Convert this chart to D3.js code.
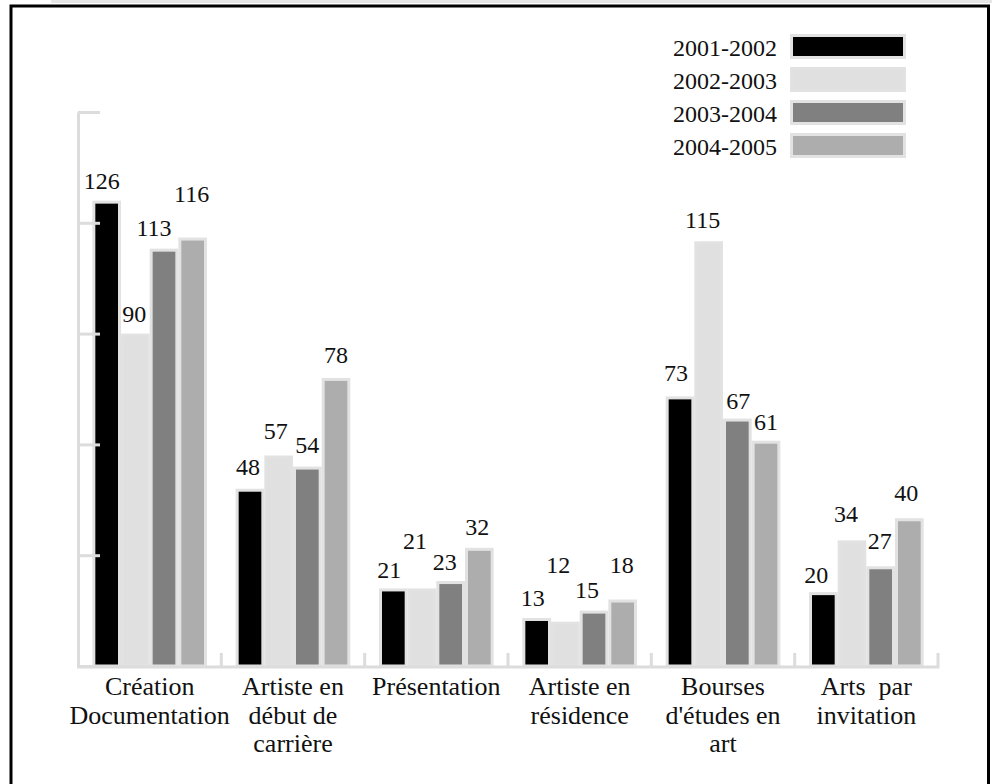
<!DOCTYPE html>
<html>
<head>
<meta charset="utf-8">
<script src="https://cdn.jsdelivr.net/npm/d3@7"></script>
<style>
  html, body { margin: 0; padding: 0; background: #fff; }
</style>
</head>
<body>
<div id="chart"></div>
<script>
// categories, one label line per entry
var categories = [
  ['Création', 'Documentation'],
  ['Artiste en', 'début de', 'carrière'],
  ['Présentation'],
  ['Artiste en', 'résidence'],
  ['Bourses', "d'études en", 'art'],
  ['Arts\u00a0 par', 'invitation']
];
var seriesNames = ['2001-2002', '2002-2003', '2003-2004', '2004-2005'];
var y2001 = [126, 48, 21, 13, 73, 20];
var y2002 = [90, 57, 21, 12, 115, 34];
var y2003 = [113, 54, 23, 15, 67, 27];
var y2004 = [116, 78, 32, 18, 61, 40];
var yTicks = [0, 30, 60, 90, 120, 150];

var fillcolors = ['#000000', '#e0e0e0', '#808080', '#adadad'];
var edge = '#e2e2e2';
var serif = "'Liberation Serif', 'Times New Roman', serif";

// label placement in the original is hand made: [dx, gap above bar]
var labelNudge = [
  [[-5, 12], [-1, 12], [-10, 13], [-1, 36]],
  [[-2, 14], [-3, 16], [0, 14], [0, 15]],
  [[-4, 10], [-7, 39], [-6, 11], [-2, 13]],
  [[-4, 12], [-7, 49], [-7, 13], [-1, 27]],
  [[-4, 15], [-6, 13], [1, 10], [0, 11]],
  [[-7, 9], [-6, 18], [-1, 17], [-3, 17]]
];

var values = [y2001, y2002, y2003, y2004];
var W = 992, H = 784;

var svg = d3.select('#chart').append('svg')
  .attr('width', W)
  .attr('height', H)
  .attr('font-family', serif);

// frame (open at the bottom)
svg.append('rect')
  .attr('x', 51).attr('y', 0).attr('width', W - 51).attr('height', 3)
  .style('fill', '#e6e6e6');
svg.append('path')
  .attr('d', 'M11,' + (H + 5) + 'V6H988.5V' + (H + 5))
  .style('fill', 'none')
  .style('stroke', '#000')
  .style('stroke-width', 3);

var x0 = d3.scaleBand().domain(d3.range(categories.length)).range([78, 938]).padding(0);
var x1 = d3.scaleBand().domain(d3.range(seriesNames.length))
  .range([x0.bandwidth() * 0.1, x0.bandwidth() * 0.9]).padding(0);
var y = d3.scaleLinear().domain([0, 150]).range([666, 112]);

var bw = x1.bandwidth();

// bars
var groups = svg.append('g').selectAll('g')
  .data(d3.range(categories.length))
  .join('g')
  .attr('transform', function(c) { return 'translate(' + x0(c) + ',0)'; });

groups.selectAll('rect')
  .data(function(c) { return values.map(function(v, s) { return { c: c, s: s, v: v[c] }; }); })
  .join('rect')
  .attr('x', function(d) { return x1(d.s) + 1.5; })
  .attr('y', function(d) { return y(d.v) + 1.5; })
  .attr('width', bw - 3)
  .attr('height', function(d) { return y(0) - y(d.v) - 1.5; })
  .style('fill', function(d) { return fillcolors[d.s]; })
  .style('stroke', edge)
  .style('stroke-width', 3);

groups.selectAll('text.val')
  .data(function(c) { return values.map(function(v, s) { return { c: c, s: s, v: v[c] }; }); })
  .join('text')
  .attr('class', 'val')
  .attr('x', function(d) { return x1(d.s) + bw / 2 + labelNudge[d.c][d.s][0]; })
  .attr('y', function(d) { return y(d.v) - labelNudge[d.c][d.s][1]; })
  .attr('text-anchor', 'middle')
  .attr('font-family', serif)
  .attr('font-size', 24)
  .attr('fill', '#111')
  .text(function(d) { return d.v; });

// y axis: ticks point into the plot
var yAxis = svg.append('g')
  .attr('transform', 'translate(78,0)')
  .call(d3.axisRight(y).tickValues(yTicks).tickSize(22).tickSizeOuter(0).tickFormat(''));
yAxis.select('.domain').style('stroke', '#dcdcdc').style('stroke-width', 3);
yAxis.selectAll('.tick line').style('stroke', '#dcdcdc').style('stroke-width', 3);

// x axis baseline with short upward ticks at the category borders
svg.append('line')
  .attr('x1', 77).attr('x2', 939.5)
  .attr('y1', y(0) + 1).attr('y2', y(0) + 1)
  .style('stroke', '#dcdcdc').style('stroke-width', 3);
svg.append('g').selectAll('line')
  .data(d3.range(categories.length))
  .join('line')
  .attr('x1', function(c) { return x0(c) + x0.bandwidth(); })
  .attr('x2', function(c) { return x0(c) + x0.bandwidth(); })
  .attr('y1', y(0))
  .attr('y2', y(0) - 13)
  .style('stroke', '#dcdcdc').style('stroke-width', 3);

// category labels
svg.append('g').selectAll('text')
  .data(categories)
  .join('text')
  .attr('text-anchor', 'middle')
  .attr('font-family', serif)
  .attr('font-size', 26)
  .attr('fill', '#111')
  .each(function(lines, c) {
    d3.select(this).selectAll('tspan')
      .data(lines)
      .join('tspan')
      .attr('x', x0(c) + x0.bandwidth() / 2)
      .attr('y', function(d, i) { return 695 + i * 28.7; })
      .text(function(d) { return d; });
  });

// legend
var legend = svg.append('g').selectAll('g')
  .data(seriesNames)
  .join('g')
  .attr('transform', function(d, i) { return 'translate(0,' + (34 + i * 33) + ')'; });
legend.append('rect')
  .attr('x', 791.5).attr('y', 1.5)
  .attr('width', 113).attr('height', 22)
  .style('fill', function(d, i) { return fillcolors[i]; })
  .style('stroke', edge)
  .style('stroke-width', 3);
legend.append('text')
  .attr('x', 777).attr('y', 22)
  .attr('text-anchor', 'end')
  .attr('font-family', serif)
  .attr('font-size', 24)
  .attr('fill', '#111')
  .text(function(d) { return d; });
</script>
</body>
</html>
